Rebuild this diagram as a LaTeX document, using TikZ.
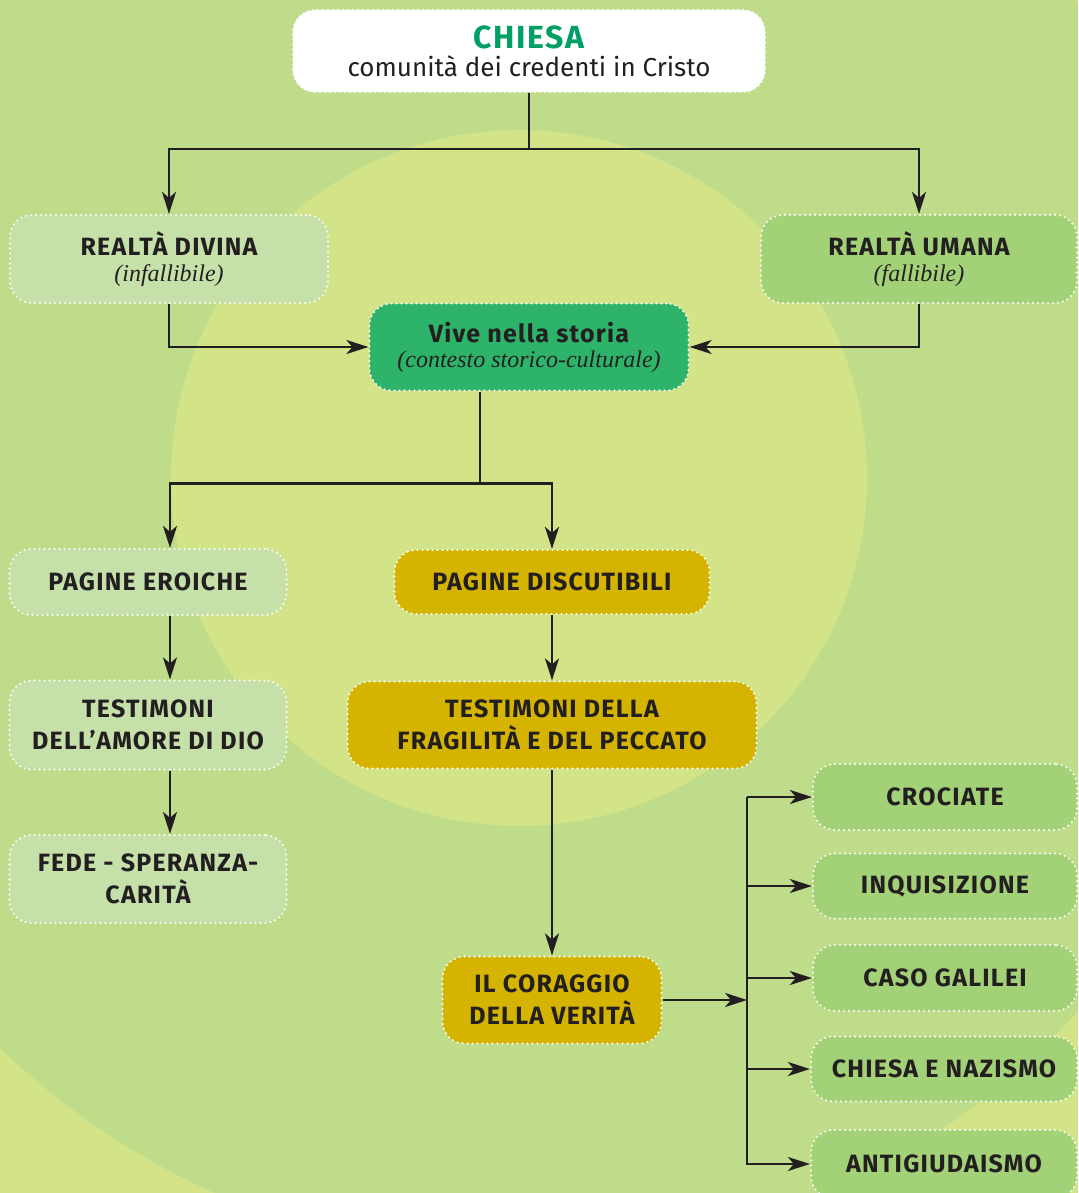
\documentclass[tikz,border=0pt]{standalone}
\usepackage{fontspec}
\setmainfont{Fira Sans}[LetterSpace=5]
\newfontfamily\plainsans{Fira Sans}
\newfontfamily\serifit{Liberation Serif}
\usetikzlibrary{arrows.meta}
\definecolor{bglight}{HTML}{D3E388}
\definecolor{bggreen}{HTML}{BFDC8B}
\definecolor{pale}{HTML}{C5E0A9}
\definecolor{midgreen}{HTML}{A3D177}
\definecolor{deepgreen}{HTML}{2DB36A}
\definecolor{mustard}{HTML}{D4B400}
\definecolor{titlegreen}{HTML}{00A064}
\definecolor{ink}{HTML}{231F20}
\tikzset{
  box/.style={rounded corners=22pt, draw=white, line width=2.2pt,
    dash pattern=on 0pt off 5pt, line cap=round, inner sep=0pt,
    align=center, text=ink, font=\bfseries\fontsize{25}{32}\selectfont},
  arr/.style={draw=ink, line width=2.7pt, -{Stealth[length=22pt,width=14pt,inset=6pt]}},
  ln/.style={draw=ink, line width=2.7pt}
}
\newcommand{\itl}[1]{{\serifit\itshape\mdseries\fontsize{24}{24}\selectfont #1}}
\begin{document}
\begin{tikzpicture}[x=1pt,y=-1pt]
\useasboundingbox (0,0) rectangle (1078,1193);
\begin{scope}
\clip (0,0) rectangle (1078,1193);
\fill[bglight] (0,0) rectangle (1078,1193);
\fill[bggreen] (521,507) circle (751pt);
\fill[bglight] (519,478) circle (348pt);
\end{scope}

\node[box, fill=white, minimum width=472pt, minimum height=82pt] (chiesa) at (529,51)
  {{\color{titlegreen}\fontsize{32}{32}\selectfont CHIESA}\\[-4pt]{\plainsans\mdseries\fontsize{26}{26}\selectfont comunità dei credenti in Cristo}};
\node[box, fill=pale, minimum width=318pt, minimum height=88pt] (divina) at (169,259)
  {REALTÀ DIVINA\\[-6pt]\itl{(infallibile)}};
\node[box, fill=midgreen, minimum width=316pt, minimum height=88pt] (umana) at (919,259)
  {REALTÀ UMANA\\[-6pt]\itl{(fallibile)}};
\node[box, fill=deepgreen, minimum width=319pt, minimum height=87pt] (vive) at (529,347)
  {Vive nella storia\\[-7pt]\itl{(contesto storico-culturale)}};

\node[box, fill=pale, minimum width=277pt, minimum height=66pt] (eroiche) at (148,582) {PAGINE EROICHE};
\node[box, fill=pale, minimum width=277pt, minimum height=89pt] (amore) at (148,725) {TESTIMONI\\DELL’AMORE DI DIO};
\node[box, fill=pale, minimum width=277pt, minimum height=88pt] (fede) at (148,879) {FEDE - SPERANZA-\\CARITÀ};

\node[box, fill=mustard, minimum width=315pt, minimum height=64pt] (discut) at (552,582) {PAGINE DISCUTIBILI};
\node[box, fill=mustard, minimum width=409pt, minimum height=87pt] (fragil) at (552,725) {TESTIMONI DELLA\\FRAGILITÀ E DEL PECCATO};
\node[box, fill=mustard, minimum width=219pt, minimum height=87pt] (coraggio) at (552,1000) {IL CORAGGIO\\DELLA VERITÀ};

\node[box, fill=midgreen, minimum width=264pt, minimum height=66pt] (crociate) at (945,797) {CROCIATE};
\node[box, fill=midgreen, minimum width=264pt, minimum height=65pt] (inquis) at (945,886) {INQUISIZIONE};
\node[box, fill=midgreen, minimum width=264pt, minimum height=66pt] (galilei) at (945,978) {CASO GALILEI};
\node[box, fill=midgreen, minimum width=266pt, minimum height=65pt] (nazismo) at (944,1069) {CHIESA E NAZISMO};
\node[box, fill=midgreen, minimum width=266pt, minimum height=68pt] (antig) at (944,1164) {ANTIGIUDAISMO};

% connectors
\draw[ln] (chiesa.south) -- ++(0,56) coordinate (j1);
\draw[arr] (j1) -| (divina.north);
\draw[arr] (j1) -| (umana.north);
\draw[arr] (divina.south) |- (vive.west);
\draw[arr] (umana.south) |- (vive.east);
\draw[ln] ([xshift=-49pt]vive.south) -- ++(0,92) coordinate (j2);
\draw[arr] (j2) -| ([xshift=22pt]eroiche.north);
\draw[arr] (j2) -| (discut.north);
\draw[arr] ([xshift=22pt]eroiche.south) -- ([xshift=22pt]amore.north);
\draw[arr] ([xshift=22pt]amore.south) -- ([xshift=22pt]fede.north);
\draw[arr] (discut.south) -- (fragil.north);
\draw[arr] (fragil.south) -- (coraggio.north);
\coordinate (bt) at (747,797);
\coordinate (bb) at (747,1165);
\draw[ln] (bt) -- (bb);
\draw[arr] (coraggio.east) -- (coraggio.east -| bt);
\draw[arr] (bt) -- (crociate.west);
\draw[arr] (inquis.west -| bt) -- (inquis.west);
\draw[arr] (galilei.west -| bt) -- (galilei.west);
\draw[arr] (nazismo.west -| bt) -- (nazismo.west);
\draw[arr] (antig.west -| bt) -- (antig.west);
\end{tikzpicture}
\end{document}
